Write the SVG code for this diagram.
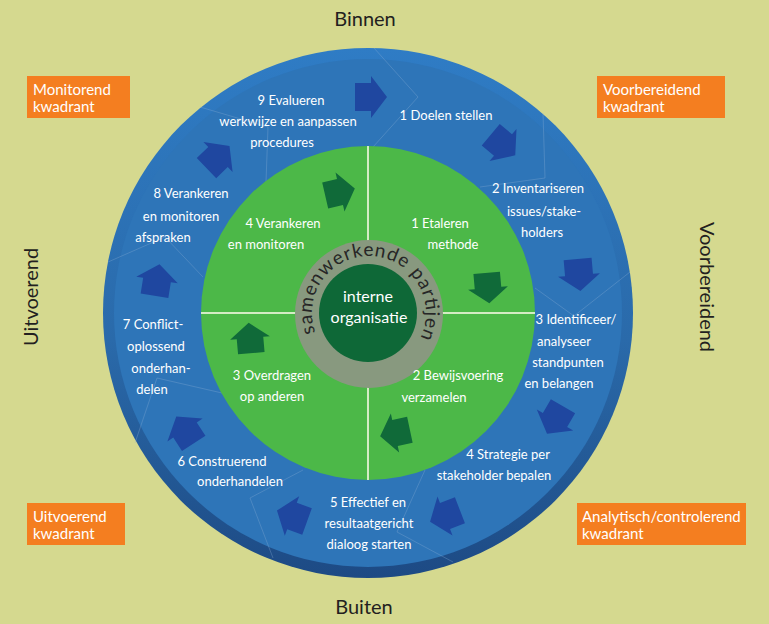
<svg xmlns="http://www.w3.org/2000/svg" width="769" height="624" viewBox="0 0 769 624">
<defs>
<style>
.t{font-family:Lato,"Liberation Sans",sans-serif;font-size:13px;fill:#fff;text-anchor:middle}
.big{font-family:Lato,"Liberation Sans",sans-serif;font-size:20px;fill:#231f20;text-anchor:middle}
.ob{fill:#f47e20}
.ot{font-family:Lato,"Liberation Sans",sans-serif;font-size:15px;fill:#fff}
.ba{fill:#1f47a0}
.ga{fill:#106a39}
.div{fill:none;stroke:#8fb0d6;stroke-width:0.8;opacity:0.4}
.ql{stroke:#d4ecc4;stroke-width:2}
</style>
<linearGradient id="rim" x1="0" y1="0" x2="0" y2="1">
<stop offset="0" stop-color="#2f7cc5"/>
<stop offset="0.55" stop-color="#2a6aaa"/>
<stop offset="1" stop-color="#1d4a84"/>
</linearGradient>
<path id="arr" d="M-16,-14 L0,-14 L0,-21 L16,0 L0,21 L0,14 L-16,14 Z"/>
<path id="tp" d="M 315.4,332.5 A 57 57 0 1 1 419.3,339.8"/>
</defs>
<rect width="769" height="624" fill="#d5d98f"/>

<g id="titles">
<text class="big" x="365" y="26">Binnen</text>
<text class="big" x="364" y="614">Buiten</text>
<text class="big" transform="translate(38,297) rotate(-90)">Uitvoerend</text>
<text class="big" transform="translate(700,287) rotate(90)">Voorbereidend</text>
</g>

<g id="q-monitorend"><rect class="ob" x="27" y="76" width="103" height="42"/><text class="ot" x="33" y="95">Monitorend</text><text class="ot" x="33" y="112">kwadrant</text></g>
<g id="q-voorbereidend"><rect class="ob" x="597" y="76" width="128" height="42"/><text class="ot" x="603" y="95">Voorbereidend</text><text class="ot" x="603" y="112">kwadrant</text></g>
<g id="q-uitvoerend"><rect class="ob" x="27" y="503" width="98" height="42"/><text class="ot" x="33" y="522">Uitvoerend</text><text class="ot" x="33" y="539">kwadrant</text></g>
<g id="q-analytisch"><rect class="ob" x="577" y="503" width="169" height="42"/><text class="ot" x="582" y="522">Analytisch/controlerend</text><text class="ot" x="582" y="539">kwadrant</text></g>

<g id="outer-ring">
<circle cx="368" cy="313" r="265" fill="url(#rim)"/>
<circle cx="368" cy="313" r="254" fill="#2e75b8"/>
</g>

<g id="dividers">
<polyline class="div" points="374,48 418,97 373,147"/>
<polyline class="div" points="543,113 545,178 480,187"/>
<polyline class="div" points="535,288 574,316 630,272"/>
<polyline class="div" points="425,470 397,532 453,562"/>
<polyline class="div" points="303,470 250,498 273,558"/>
<polyline class="div" points="222,393 157,378 135,443"/>
<polyline class="div" points="108,262 165,237 203,277"/>
<polyline class="div" points="200,107 268,127 266,182"/>
</g>

<g id="inner">
<circle cx="368" cy="313" r="167" fill="#4cb848"/>
<line class="ql" x1="368" y1="146" x2="368" y2="480"/>
<line class="ql" x1="201" y1="313" x2="535" y2="313"/>
<circle cx="369" cy="314" r="74" fill="#88997f"/>
<circle cx="368" cy="313" r="49" fill="#0e6837"/>
</g>

<g id="center">
<text font-family="Lato,'Liberation Sans',sans-serif" font-size="19" fill="#262626"><textPath href="#tp" textLength="224" lengthAdjust="spacing">samenwerkende partijen</textPath></text>
<text class="t" style="font-size:16px" x="368" y="302">interne</text>
<text class="t" style="font-size:16px" x="369" y="323">organisatie</text>
</g>

<g id="connectors">
<use href="#arr" class="ba" transform="translate(371,97)"/>
<use href="#arr" class="ba" transform="translate(503,145) rotate(40)"/>
<use href="#arr" class="ba" transform="translate(579,275) rotate(85)"/>
<use href="#arr" class="ba" transform="translate(555,420) rotate(120)"/>
<use href="#arr" class="ba" transform="translate(445,516) rotate(159)"/>
<use href="#arr" class="ba" transform="translate(292,516) rotate(200)"/>
<use href="#arr" class="ba" transform="translate(185,430) rotate(237)"/>
<use href="#arr" class="ba" transform="translate(157,280) rotate(279)"/>
<use href="#arr" class="ba" transform="translate(218,157) rotate(316)"/>
<use href="#arr" class="ga" transform="translate(340,192) rotate(-13) scale(0.95)"/>
<use href="#arr" class="ga" transform="translate(488,288) rotate(85) scale(0.95)"/>
<use href="#arr" class="ga" transform="translate(395,433) rotate(168) scale(0.95)"/>
<use href="#arr" class="ga" transform="translate(250,338) rotate(265) scale(0.95)"/>
</g>

<g id="step-o1"><text class="t" x="446" y="120">1 Doelen stellen</text></g>
<g id="step-o2"><text class="t" x="538" y="193">2 Inventariseren</text><text class="t" x="544" y="216">issues/stake-</text><text class="t" x="542" y="237">holders</text></g>
<g id="step-o3"><text class="t" x="576" y="324">3 Identificeer/</text><text class="t" x="564" y="346">analyseer</text><text class="t" x="568" y="367">standpunten</text><text class="t" x="559" y="388">en belangen</text></g>
<g id="step-o4"><text class="t" x="508" y="459">4 Strategie per</text><text class="t" x="494" y="480">stakeholder bepalen</text></g>
<g id="step-o5"><text class="t" x="368" y="507">5 Effectief en</text><text class="t" x="369" y="528">resultaatgericht</text><text class="t" x="369" y="549">dialoog starten</text></g>
<g id="step-o6"><text class="t" x="222" y="466">6 Construerend</text><text class="t" x="240" y="486">onderhandelen</text></g>
<g id="step-o7"><text class="t" x="153" y="329">7 Conflict-</text><text class="t" x="156" y="351">oplossend</text><text class="t" x="161" y="373">onderhan-</text><text class="t" x="152" y="394">delen</text></g>
<g id="step-o8"><text class="t" x="191" y="198">8 Verankeren</text><text class="t" x="181" y="221">en monitoren</text><text class="t" x="163" y="242">afspraken</text></g>
<g id="step-o9"><text class="t" x="291" y="105">9 Evalueren</text><text class="t" x="288" y="126">werkwijze en aanpassen</text><text class="t" x="282" y="147">procedures</text></g>

<g id="step-i1"><text class="t" x="440" y="228">1 Etaleren</text><text class="t" x="453" y="249">methode</text></g>
<g id="step-i2"><text class="t" x="458" y="380">2 Bewijsvoering</text><text class="t" x="434" y="402">verzamelen</text></g>
<g id="step-i3"><text class="t" x="272" y="380">3 Overdragen</text><text class="t" x="272" y="401">op anderen</text></g>
<g id="step-i4"><text class="t" x="283" y="228">4 Verankeren</text><text class="t" x="266" y="249">en monitoren</text></g>
</svg>
